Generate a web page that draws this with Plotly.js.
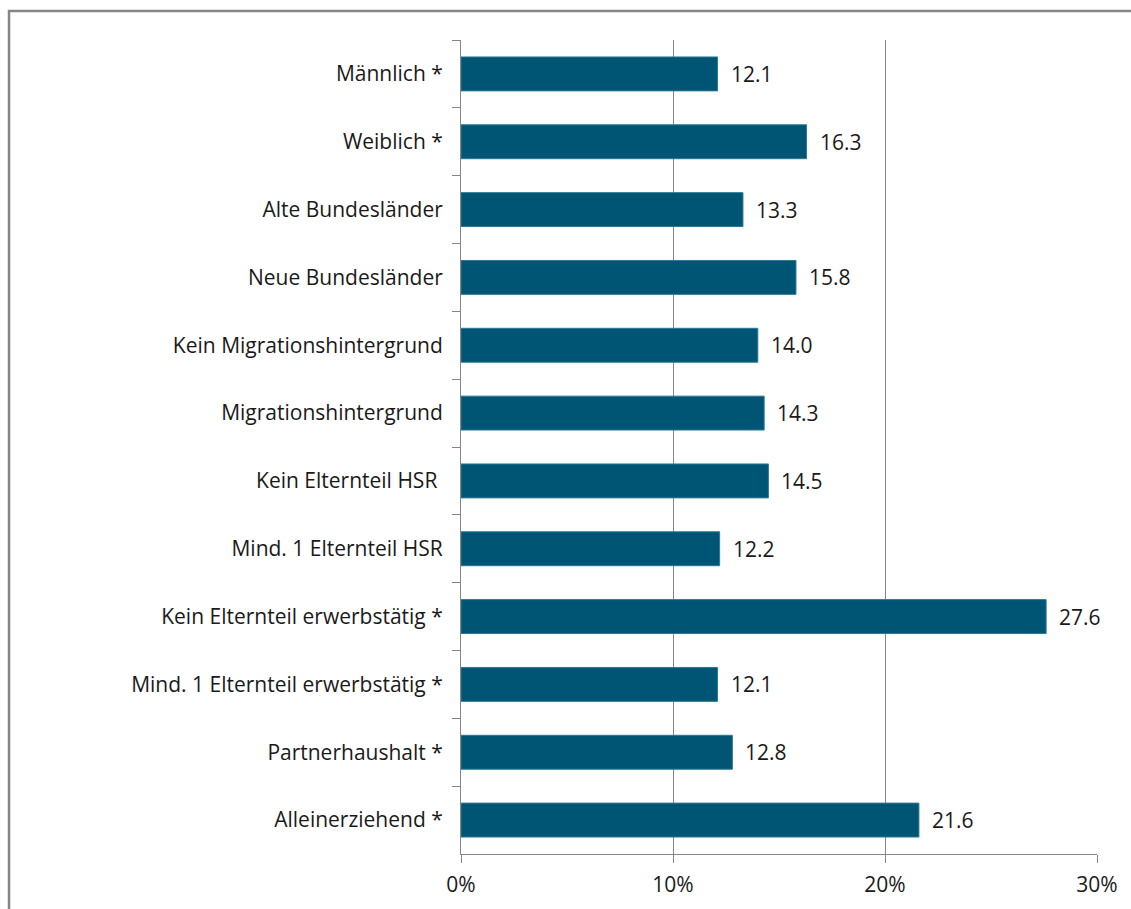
<!DOCTYPE html>
<html>
<head>
<meta charset="utf-8">
<script src="https://cdn.plot.ly/plotly-3.0.1.min.js"></script>
<style>html,body{margin:0;padding:0;background:#fff;}#chart{width:1131px;height:909px;}</style>
</head>
<body>
<div id="chart"></div>
<script>
const categories = [
  "Männlich *",
  "Weiblich *",
  "Alte Bundesländer",
  "Neue Bundesländer",
  "Kein Migrationshintergrund",
  "Migrationshintergrund",
  "Kein Elternteil HSR ",
  "Mind. 1 Elternteil HSR",
  "Kein Elternteil erwerbstätig *",
  "Mind. 1 Elternteil erwerbstätig *",
  "Partnerhaushalt *",
  "Alleinerziehend *"
];
const values = [12.1, 16.3, 13.3, 15.8, 14.0, 14.3, 14.5, 12.2, 27.6, 12.1, 12.8, 21.6];
const xTickValues = [0, 10, 20, 30];
const xTickLabels = ["0%", "10%", "20%", "30%"];

const FONT = "Open Sans, Noto Sans, sans-serif";
const GRAY = "#868686";
const TEXT = "#1a1a1a";

const trace = {
  type: "bar",
  orientation: "h",
  y: categories,
  x: values,
  marker: {color: "#005575", line: {color: "#2c7896", width: 1}},
  hoverinfo: "none"
};

const annotations = values.map((v, i) => ({
  x: v, y: categories[i], xref: "x", yref: "y",
  text: v.toFixed(1), showarrow: false,
  xanchor: "left", xshift: 11,
  font: {family: FONT, size: 21, color: TEXT}
}));

const layout = {
  width: 1131, height: 909,
  margin: {l: 461, r: 34, t: 40, b: 55},
  paper_bgcolor: "#fff", plot_bgcolor: "#fff",
  showlegend: false,
  bargap: 0.5,
  font: {family: FONT, size: 21, color: TEXT},
  xaxis: {
    range: [0, 30], tickvals: xTickValues, ticktext: xTickLabels,
    showgrid: true, gridcolor: GRAY, gridwidth: 1,
    zeroline: false, showline: true, linecolor: GRAY, linewidth: 1,
    ticks: "outside", ticklen: 8, tickcolor: GRAY,
    ticklabelstandoff: 4,
    tickfont: {family: FONT, size: 21, color: TEXT},
    fixedrange: true
  },
  yaxis: {
    type: "category", range: [11.5, -0.5],
    showgrid: false, zeroline: false,
    showline: true, linecolor: GRAY, linewidth: 1,
    ticks: "outside", ticklen: 8, tickcolor: GRAY, tickson: "boundaries",
    ticklabelstandoff: 13,
    tickfont: {family: FONT, size: 21, color: TEXT},
    fixedrange: true
  },
  annotations: annotations,
  shapes: [{
    type: "rect", xref: "paper", yref: "paper",
    x0: (9 - 461) / 636, x1: 1.2, y0: -0.2, y1: (854 - 11) / 814,
    line: {color: GRAY, width: 2.5}, fillcolor: "rgba(0,0,0,0)", layer: "below"
  }]
};

Plotly.newPlot("chart", [trace], layout, {displayModeBar: false, staticPlot: true});
</script>
</body>
</html>
